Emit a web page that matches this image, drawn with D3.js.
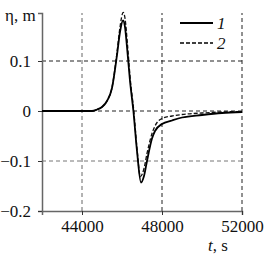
<!DOCTYPE html>
<html>
<head>
<meta charset="utf-8">
<script src="https://cdn.jsdelivr.net/npm/d3@7"></script>
<style>
  svg text { font-family: 'Liberation Serif', 'Times New Roman' !important; font-size: 17px; }
</style>
</head>
<body style="margin:0;background:#fff">
<script>
// time, s
const t1 = [42000, 44000, 44500, 44750, 45000, 45250, 45500, 45750, 45900, 46050, 46150, 46250, 46400, 46570, 46750, 46950, 47100, 47250, 47500, 47650, 48000, 48500, 49000, 50000, 51000, 52000];
const eta1 = [0, 0, 0, 0.003, 0.008, 0.02, 0.046, 0.112, 0.158, 0.181, 0.168, 0.128, 0.06, 0, -0.08, -0.143, -0.13, -0.1, -0.055, -0.04, -0.026, -0.019, -0.013, -0.008, -0.004, -0.002];
const t2 = [42000, 44000, 44500, 44750, 45000, 45250, 45500, 45750, 45900, 46060, 46160, 46270, 46410, 46590, 46750, 46920, 47100, 47250, 47500, 47650, 48000, 48500, 49000, 50000, 51000, 52000];
const eta2 = [0, 0, 0, 0.003, 0.008, 0.02, 0.047, 0.117, 0.168, 0.197, 0.183, 0.135, 0.065, 0, -0.075, -0.131, -0.115, -0.085, -0.045, -0.03, -0.015, -0.01, -0.007, -0.004, -0.002, -0.001];
const xTicks = [44000, 48000, 52000];
const yTicks = [-0.2, -0.1, 0, 0.1];
const legendLabels = ["1", "2"];

const svg = d3.select("body").append("svg")
  .attr("width", 266).attr("height", 256);

const x = d3.scaleLinear().domain([42000, 52000]).range([42, 242]);
const y = d3.scaleLinear().domain([-0.2, 0.196]).range([211, 13]);

// grid
svg.append("g").selectAll("line").data(xTicks).join("line")
  .attr("x1", d => x(d)).attr("x2", d => x(d))
  .attr("y1", y(-0.2)).attr("y2", y(0.196))
  .attr("stroke", d => d === 44000 ? "#666" : "#222").attr("stroke-width", 1).attr("stroke-dasharray", "4,3");
svg.append("g").selectAll("line").data(yTicks.filter(d => d > -0.2)).join("line")
  .attr("x1", x(42000)).attr("x2", x(52000))
  .attr("y1", d => y(d)).attr("y2", d => y(d))
  .attr("stroke", d => d === -0.1 ? "#777" : "#222").attr("stroke-width", 1).attr("stroke-dasharray", "4,3");

// axes
const fmtY = d => d === 0 ? "0" : (d < 0 ? "\u2212" : "") + Math.abs(d).toFixed(1);
const gy = svg.append("g").attr("transform", "translate(" + x(42000) + ",0)")
  .call(d3.axisLeft(y).tickValues(yTicks).tickFormat(fmtY).tickSizeOuter(0).tickSize(4).tickPadding(7));
const gx = svg.append("g").attr("transform", "translate(0," + y(-0.2) + ")")
  .call(d3.axisBottom(x).tickValues(xTicks).tickFormat(d3.format("d")).tickSizeOuter(0).tickSize(4).tickPadding(5));
[gx, gy].forEach(g => {
  g.attr("font-family", "Liberation Serif").attr("font-size", 17);
  g.select(".domain").attr("stroke", "#666").attr("stroke-width", 1.5);
  g.selectAll(".tick line").attr("stroke", "#333");
  g.selectAll(".tick text").attr("fill", "#111");
});

// curves
const line = d3.line().x(d => x(d[0])).y(d => y(d[1])).curve(d3.curveMonotoneX);
svg.append("path").datum(d3.zip(t2, eta2))
  .attr("fill", "none").attr("stroke", "#111").attr("stroke-width", 1.3)
  .attr("stroke-dasharray", "4,2").attr("d", line);
svg.append("path").datum(d3.zip(t1, eta1))
  .attr("fill", "none").attr("stroke", "#000").attr("stroke-width", 1.8)
  .attr("d", line);

// labels
svg.append("text").attr("x", 5).attr("y", 21).attr("fill", "#111")
  .text("\u03b7, m");
const tl = svg.append("text").attr("x", 208).attr("y", 251).attr("fill", "#111");
tl.append("tspan").attr("font-style", "italic").text("t");
tl.append("tspan").text(", s");

// legend
legendLabels.forEach((lab, i) => {
  const ly = 23 + i * 20;
  svg.append("line").attr("x1", 180).attr("x2", 213).attr("y1", ly).attr("y2", ly)
    .attr("stroke", "#000").attr("stroke-width", i === 0 ? 1.8 : 1.3)
    .attr("stroke-dasharray", i === 0 ? null : "4,2");
  svg.append("text").attr("x", 217).attr("y", ly + 6).attr("fill", "#111")
    .attr("font-style", "italic").text(lab);
});
</script>
</body>
</html>
